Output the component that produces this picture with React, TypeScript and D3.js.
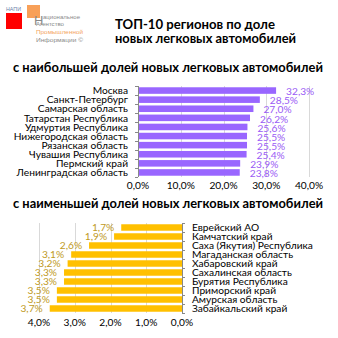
import React from "react";
import * as d3 from "d3";

const topCategories = [
  "Москва",
  "Санкт-Петербург",
  "Самарская область",
  "Татарстан Республика",
  "Удмуртия Республика",
  "Нижегородская область",
  "Рязанская область",
  "Чувашия Республика",
  "Пермский край",
  "Ленинградская область",
];
const topValues = [32.3, 28.5, 27.0, 26.2, 25.6, 25.5, 25.5, 25.4, 23.9, 23.8];
const topTicks = [0, 10, 20, 30, 40];

const bottomCategories = [
  "Еврейский АО",
  "Камчатский край",
  "Саха (Якутия) Республика",
  "Магаданская область",
  "Хабаровский край",
  "Сахалинская область",
  "Бурятия Республика",
  "Приморский край",
  "Амурская область",
  "Забайкальский край",
];
const bottomValues = [1.7, 1.9, 2.6, 3.1, 3.2, 3.3, 3.3, 3.5, 3.5, 3.7];
const bottomTicks = [0, 1, 2, 3, 4];

const fmt = (v: number) => v.toFixed(1).replace(".", ",") + "%";

const FONT = "Lato, 'Liberation Sans', Arial, sans-serif";
const LOGOFONT = "'Liberation Sans', Arial, sans-serif";
const FS = 10.2;

export default function App() {
  const W = 338;
  const H = 338;

  const xTop = d3.scaleLinear().domain([0, 40]).range([138, 309]);
  const yTop = d3.scaleBand<string>().domain(topCategories).range([86, 177]).paddingInner(0.28).paddingOuter(0.14);
  const bandTop = d3.scaleBand<string>().domain(topCategories).range([86, 177]);

  const xBot = d3.scaleLinear().domain([0, 4]).range([182, 39]);
  const yBot = d3.scaleBand<string>().domain(bottomCategories).range([223, 313]).paddingInner(0.28).paddingOuter(0.14);
  const bandBot = d3.scaleBand<string>().domain(bottomCategories).range([223, 313]);

  const purple = "#9966ff";
  const purpleText = "#9a5cf5";
  const gold = "#ffc000";
  const goldText = "#c09a24";

  return (
    <svg
      width={W}
      height={H}
      style={{ position: "fixed", left: 0, top: 0, background: "#fff" }}
      fontFamily={FONT}
    >
      <rect x={0} y={0} width={W} height={H} fill="#fff" />

      {/* logo */}
      <text x={6} y={11} fontSize={6} fill="#6b7fa8" fontFamily={LOGOFONT} textLength={15} lengthAdjust="spacingAndGlyphs">НАПИ</text>
      <rect x={6} y={13} width={16} height={16} fill="#ff0000" />
      <rect x={27} y={5} width={13} height={13} fill="#f79646" opacity={0.9} />
      <text x={34} y={25} fontSize={13} fill="#8a8a8a" fontFamily={LOGOFONT}>Н</text>
      <text x={43} y={19} fontSize={6} fill="#8a8a8a" fontFamily={LOGOFONT} textLength={37} lengthAdjust="spacingAndGlyphs">ациональное</text>
      <text x={36} y={26} fontSize={6} fill="#8a8a8a" fontFamily={LOGOFONT} textLength={28} lengthAdjust="spacingAndGlyphs">Агентство</text>
      <text x={36} y={34} fontSize={6} fill="#f4a460" fontFamily={LOGOFONT} textLength={47} lengthAdjust="spacingAndGlyphs">Промышленной</text>
      <text x={36} y={42} fontSize={6} fill="#8a8a8a" fontFamily={LOGOFONT} textLength={47} lengthAdjust="spacingAndGlyphs">Информации ©</text>

      {/* title */}
      <text x={115} y={29} fontSize={13} fontWeight="bold" fill="#000" textLength={160} lengthAdjust="spacingAndGlyphs">ТОП-10 регионов по доле</text>
      <text x={115} y={43} fontSize={13} fontWeight="bold" fill="#000" textLength={181} lengthAdjust="spacingAndGlyphs">новых легковых автомобилей</text>

      <text x={13} y={72} fontSize={13} fontWeight="bold" fill="#000" textLength={310} lengthAdjust="spacingAndGlyphs">с наибольшей долей новых легковых автомобилей</text>

      {topTicks.slice(1).map((t) => (
        <line key={"gt" + t} x1={Math.round(xTop(t)) + 0.5} x2={Math.round(xTop(t)) + 0.5} y1={86} y2={177} stroke="#d9d9d9" strokeWidth={1} />
      ))}
      {topCategories.map((c, i) => (
        <rect key={"bt" + c} x={xTop(0)} y={yTop(c)!} width={xTop(topValues[i]) - xTop(0)} height={yTop.bandwidth()} fill={purple} />
      ))}
      <line x1={xTop(0) + 0.5} x2={xTop(0) + 0.5} y1={86} y2={177} stroke="#888" strokeWidth={1} />
      {[...topCategories.map((c) => bandTop(c)!), 177].map((y, i) => (
        <line key={"tt" + i} x1={xTop(0) - 3} x2={xTop(0)} y1={Math.round(y) + 0.5} y2={Math.round(y) + 0.5} stroke="#888" />
      ))}
      {topCategories.map((c) => (
        <text key={"ct" + c} x={128} y={bandTop(c)! + bandTop.bandwidth() / 2} dy="0.36em" fontSize={FS} textAnchor="end" fill="#000">{c}</text>
      ))}
      {topCategories.map((c, i) => (
        <text key={"vt" + c} x={xTop(topValues[i]) + 10} y={yTop(c)! + yTop.bandwidth() / 2 + 1} dy="0.36em" fontSize={FS} fill={purpleText}>{fmt(topValues[i])}</text>
      ))}
      {topTicks.map((t) => (
        <text key={"xt" + t} x={xTop(t)} y={189} fontSize={FS} textAnchor="middle" fill="#000">{fmt(t)}</text>
      ))}

      <text x={13} y={208} fontSize={13} fontWeight="bold" fill="#000" textLength={310} lengthAdjust="spacingAndGlyphs">с наименьшей долей новых легковых автомобилей</text>

      {bottomTicks.slice(1).map((t) => (
        <line key={"gb" + t} x1={Math.round(xBot(t)) + 0.5} x2={Math.round(xBot(t)) + 0.5} y1={223} y2={313} stroke="#d9d9d9" strokeWidth={1} />
      ))}
      {bottomCategories.map((c, i) => (
        <rect key={"bb" + c} x={xBot(bottomValues[i])} y={yBot(c)!} width={xBot(0) - xBot(bottomValues[i])} height={yBot.bandwidth()} fill={gold} />
      ))}
      <line x1={xBot(0) + 0.5} x2={xBot(0) + 0.5} y1={223} y2={313} stroke="#888" strokeWidth={1} />
      {[...bottomCategories.map((c) => bandBot(c)!), 313].map((y, i) => (
        <line key={"tb" + i} x1={xBot(0)} x2={xBot(0) + 3} y1={Math.round(y) + 0.5} y2={Math.round(y) + 0.5} stroke="#888" />
      ))}
      {bottomCategories.map((c) => (
        <text key={"cb" + c} x={192} y={bandBot(c)! + bandBot.bandwidth() / 2} dy="0.36em" fontSize={FS} textAnchor="start" fill="#000">{c}</text>
      ))}
      {bottomCategories.map((c, i) => (
        <text key={"vb" + c} x={xBot(bottomValues[i]) - 7} y={yBot(c)! + yBot.bandwidth() / 2} dy="0.36em" fontSize={FS} textAnchor="end" fill={goldText}>{fmt(bottomValues[i])}</text>
      ))}
      {bottomTicks.map((t) => (
        <text key={"xb" + t} x={xBot(t)} y={326} fontSize={FS} textAnchor="middle" fill="#000">{fmt(t)}</text>
      ))}
    </svg>
  );
}
